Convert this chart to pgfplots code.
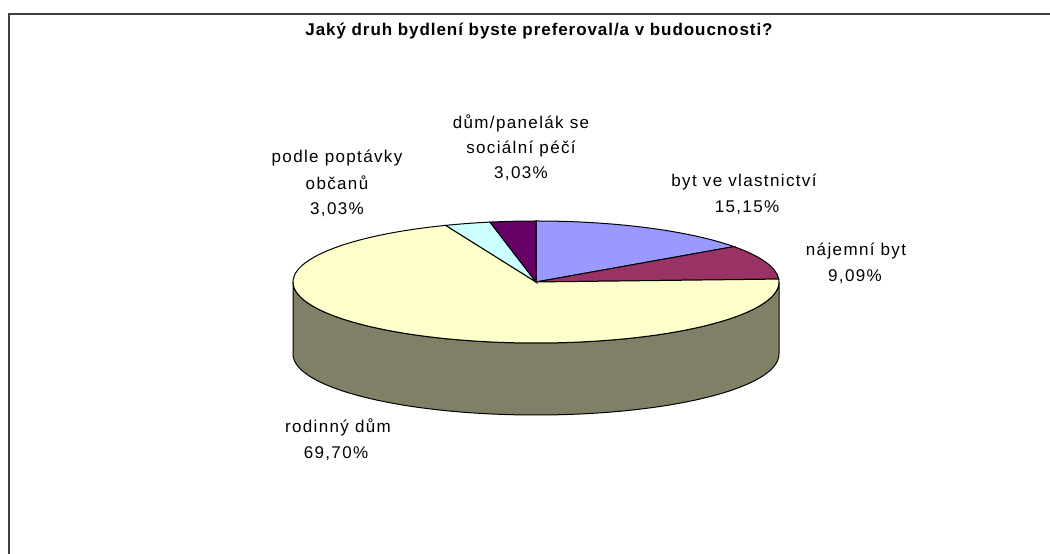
\documentclass[border=0pt]{standalone}
\usepackage{pgfplots}
\pgfplotsset{compat=1.18}
\usepackage{pgfplotstable}
\usepackage{fontspec}
\setmainfont{Liberation Sans}
\newfontfamily\lblfont[LetterSpace=8]{Liberation Sans}
\newfontfamily\ttlfont[LetterSpace=5.5]{Liberation Sans}

\definecolor{cOwn}{HTML}{9999FF}
\definecolor{cRent}{HTML}{993366}
\definecolor{cHouse}{HTML}{FFFFCC}
\definecolor{cHouseSide}{HTML}{808066}
\definecolor{cDemand}{HTML}{CCFFFF}
\definecolor{cSocial}{HTML}{660066}
\definecolor{frame}{HTML}{404040}

% shares in percent, clockwise from 12 o'clock
\pgfplotstableread{
value
15.15
9.09
69.70
3.03
3.03
}\piedata

\begin{document}
\begin{tikzpicture}
  \pgfplotstablegetelem{0}{value}\of\piedata \let\vA\pgfplotsretval
  \pgfplotstablegetelem{1}{value}\of\piedata \let\vB\pgfplotsretval
  \pgfplotstablegetelem{2}{value}\of\piedata \let\vC\pgfplotsretval
  \pgfplotstablegetelem{3}{value}\of\piedata \let\vD\pgfplotsretval
  \pgfplotstablegetelem{4}{value}\of\piedata \let\vE\pgfplotsretval
  \pgfmathsetmacro\aA{90}
  \pgfmathsetmacro\aB{\aA-3.6*\vA}
  \pgfmathsetmacro\aC{\aB-3.6*\vB}
  \pgfmathsetmacro\aD{\aC-3.6*\vC}
  \pgfmathsetmacro\aE{\aD-3.6*\vD}
  \pgfmathsetmacro\aF{\aE-3.6*\vE}
  \def\cx{536}\def\cy{272}\def\rx{243}\def\ry{61}\def\dd{72}
  \begin{axis}[
      hide axis,
      x=1pt, y=1pt,
      xmin=0, xmax=1050, ymin=0, ymax=554,
      clip=false,
    ]
    \coordinate (bl) at (axis cs:0,0);
    \coordinate (tr) at (axis cs:1050,554);
    \fill[white] (axis cs:0,0) rectangle (axis cs:1050,554);
    % frame
    \draw[frame, line width=2pt] (axis cs:9,-10) -- (axis cs:9,540) -- (axis cs:1060,540);
    % side wall (front half)
    \filldraw[fill=cHouseSide, draw=black, line width=1pt]
      (axis cs:{\cx-\rx},\cy) -- (axis cs:{\cx-\rx},{\cy-\dd})
      arc[start angle=180, end angle=360, x radius=\rx pt, y radius=\ry pt]
      -- (axis cs:{\cx+\rx},\cy)
      arc[start angle=0, end angle=-180, x radius=\rx pt, y radius=\ry pt] -- cycle;
    % top faces
    \filldraw[fill=cOwn, draw=black, line width=1pt] (axis cs:\cx,\cy) -- ++(\aA:\rx pt and \ry pt)
      arc[start angle=\aA, end angle=\aB, x radius=\rx pt, y radius=\ry pt] -- cycle;
    \filldraw[fill=cRent, draw=black, line width=1pt] (axis cs:\cx,\cy) -- ++(\aB:\rx pt and \ry pt)
      arc[start angle=\aB, end angle=\aC, x radius=\rx pt, y radius=\ry pt] -- cycle;
    \filldraw[fill=cHouse, draw=black, line width=1pt] (axis cs:\cx,\cy) -- ++(\aC:\rx pt and \ry pt)
      arc[start angle=\aC, end angle=\aD, x radius=\rx pt, y radius=\ry pt] -- cycle;
    \filldraw[fill=cDemand, draw=black, line width=1pt] (axis cs:\cx,\cy) -- ++(\aD:\rx pt and \ry pt)
      arc[start angle=\aD, end angle=\aE, x radius=\rx pt, y radius=\ry pt] -- cycle;
    \filldraw[fill=cSocial, draw=black, line width=1pt] (axis cs:\cx,\cy) -- ++(\aE:\rx pt and \ry pt)
      arc[start angle=\aE, end angle=\aF, x radius=\rx pt, y radius=\ry pt] -- cycle;
    % texts
    \begin{scope}[every node/.style={anchor=base, inner sep=0pt, font=\lblfont\fontsize{17}{20}\selectfont}]
      \node[font=\ttlfont\fontsize{17}{20}\selectfont\bfseries] at (axis cs:539,518) {Jaký druh bydlení byste preferoval/a v budoucnosti?};
      \node at (axis cs:521,425) {dům/panelák se};
      \node at (axis cs:521,400) {sociální péčí};
      \node at (axis cs:521,375) {3,03\%};
      \node at (axis cs:337,391) {podle poptávky};
      \node at (axis cs:337,364) {občanů};
      \node at (axis cs:337,339) {3,03\%};
      \node at (axis cs:744,367) {byt ve vlastnictví};
      \node at (axis cs:747,341) {15,15\%};
      \node at (axis cs:856,298) {nájemní byt};
      \node at (axis cs:855,272) {9,09\%};
      \node at (axis cs:338,121) {rodinný dům};
      \node at (axis cs:336,95) {69,70\%};
    \end{scope}
  \end{axis}
  \pgfresetboundingbox
  \path[use as bounding box] (bl) rectangle (tr);
\end{tikzpicture}
\end{document}
